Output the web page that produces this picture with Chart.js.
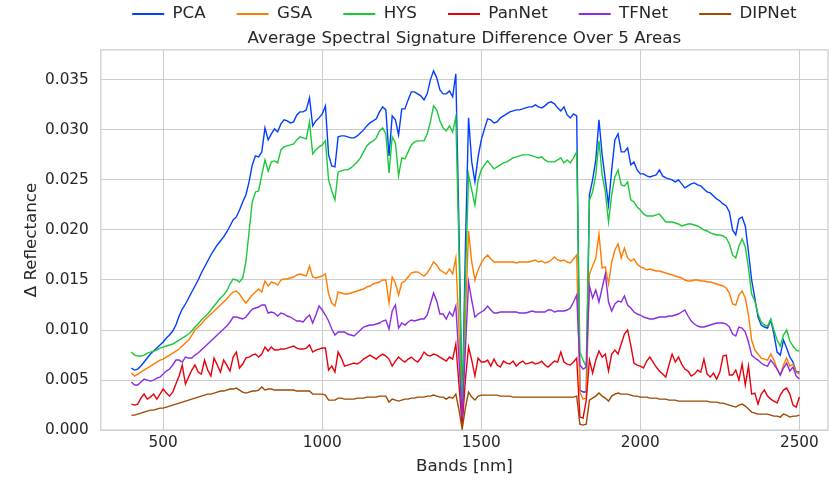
<!DOCTYPE html>
<html>
<head>
<meta charset="utf-8">
<script src="https://cdn.jsdelivr.net/npm/chart.js@4.4.1/dist/chart.umd.min.js"></script>
<style>
  html, body { margin: 0; padding: 0; background: #fff; }
  #wrap { width: 829px; height: 478px; position: relative; }
</style>
</head>
<body>
<div id="wrap"><canvas id="chart"></canvas></div>
<script>
// band centres (nm), 10 nm steps 400..2500
const bands = [];
for (let b = 400; b <= 2500; b += 10) bands.push(b);

// average delta reflectance per method, in units of 1e-3 (one row = 100 nm)
const pca = [
  6.2, 6.0, 6.1, 6.4, 6.8, 7.2, 7.6, 7.9, 8.2, 8.5,
  8.8, 9.2, 9.5, 9.9, 10.5, 11.4, 12.1, 12.6, 13.2, 13.8,
  14.4, 15.0, 15.7, 16.3, 16.9, 17.5, 18.0, 18.5, 18.9, 19.3,
  19.8, 20.4, 21.0, 21.3, 22.0, 22.8, 23.5, 24.8, 26.5, 27.4,
  27.3, 27.8, 30.2, 29.0, 29.6, 30.1, 29.8, 30.6, 31.0, 30.9,
  30.7, 30.8, 31.5, 31.8, 31.8, 32.0, 33.2, 30.4, 30.9, 31.2,
  31.6, 32.4, 27.5, 26.4, 26.3, 29.3, 29.4, 29.4, 29.3, 29.2,
  29.2, 29.4, 29.7, 30.0, 30.4, 30.7, 30.9, 31.1, 31.8, 32.3,
  32.0, 27.4, 31.4, 31.0, 29.5, 32.1, 32.1, 33.0, 33.8, 33.8,
  33.6, 33.4, 33.0, 33.6, 35.0, 35.9, 35.2, 34.0, 33.6, 33.6,
  33.9, 33.3, 35.6, 20.0, 1.8, 18.0, 31.2, 26.8, 24.8, 27.3,
  29.0, 30.1, 31.1, 31.0, 30.7, 30.8, 31.2, 31.4, 31.6, 31.8,
  31.9, 32.0, 32.0, 32.1, 32.2, 32.3, 32.3, 32.5, 32.3, 32.2,
  32.4, 32.7, 32.8, 32.6, 32.2, 31.9, 32.3, 31.5, 31.2, 31.6,
  31.4, 4.0, 3.8, 3.8, 23.5, 25.0, 27.0, 31.0, 27.5, 25.0,
  22.5, 26.0, 29.0, 29.6, 27.8, 27.8, 28.2, 26.5, 26.8, 26.0,
  25.6, 25.6, 25.4, 25.3, 25.4, 25.5, 26.0, 25.4, 25.2, 25.1,
  25.0, 24.8, 25.0, 24.6, 24.2, 24.4, 24.6, 24.7, 24.5, 24.4,
  24.1, 23.8, 23.7, 23.4, 23.1, 22.9, 22.6, 22.4, 21.8, 20.0,
  19.5, 21.1, 21.3, 20.4, 17.8, 15.0, 13.2, 11.3, 10.5, 10.3,
  10.2, 11.0, 9.6, 7.8, 7.5, 9.0, 8.2, 7.3, 6.8, 5.8,
  5.8
];
const gsa = [
  5.7, 5.4, 5.6, 5.8, 6.0, 6.2, 6.4, 6.6, 6.8, 7.0,
  7.1, 7.3, 7.5, 7.7, 7.9, 8.1, 8.4, 8.7, 9.0, 9.5,
  10.0, 10.3, 10.6, 11.0, 11.3, 11.6, 11.9, 12.2, 12.5, 12.8,
  13.1, 13.5, 13.8, 13.9, 13.6, 13.1, 12.7, 13.1, 13.5, 13.8,
  14.1, 13.8, 14.9, 14.4, 14.8, 14.7, 14.5, 15.0, 15.1, 15.1,
  15.2, 15.3, 15.5, 15.6, 15.5, 15.4, 16.4, 15.3, 15.2, 15.3,
  15.4, 15.6, 13.6, 12.7, 12.4, 13.8, 13.7, 13.6, 13.6, 13.7,
  13.8, 13.9, 14.0, 14.1, 14.3, 14.4, 14.6, 14.7, 14.8, 15.0,
  15.0, 12.7, 15.3, 14.7, 13.5, 14.7, 14.9, 15.3, 15.7, 15.8,
  15.8, 15.6, 15.4, 15.7, 16.2, 16.8, 16.5, 16.0, 15.8, 15.6,
  16.1, 15.6, 17.2, 10.0, 1.0, 11.0, 19.9, 16.8, 15.0, 16.0,
  16.7, 17.2, 17.5, 17.1, 16.8, 16.8, 16.8, 16.8, 16.8, 16.8,
  16.8, 16.7, 16.8, 16.8, 16.8, 16.8, 16.9, 17.0, 16.8, 16.9,
  16.7, 16.8, 17.0, 17.3, 17.0, 16.9, 17.0, 16.8, 16.7, 17.1,
  17.5, 3.8, 3.1, 3.2, 15.6, 16.4, 17.2, 19.6, 16.2, 16.3,
  14.6, 16.8, 18.0, 18.6, 17.2, 18.2, 17.2, 16.9, 17.1, 16.6,
  16.3, 16.2, 16.0, 16.1, 16.0, 15.9, 15.9, 15.8, 15.7, 15.6,
  15.5, 15.4, 15.3, 15.2, 15.0, 14.9, 14.9, 15.0, 15.0, 14.9,
  14.9, 14.8, 14.8, 14.7, 14.6, 14.5, 14.4, 14.2, 13.7, 12.6,
  12.5, 13.5, 13.9, 13.2, 11.5, 9.0, 8.0, 7.6, 7.2, 7.1,
  7.0, 7.6, 7.0, 6.1, 5.5, 6.5, 7.2, 6.4, 6.6, 5.8,
  5.6
];
const hys = [
  7.8, 7.5, 7.4, 7.4, 7.5, 7.7, 7.8, 7.9, 8.0, 8.2,
  8.3, 8.4, 8.5, 8.6, 8.8, 9.0, 9.2, 9.4, 9.6, 9.9,
  10.3, 10.6, 11.0, 11.3, 11.6, 12.0, 12.4, 12.8, 13.2, 13.5,
  13.9, 14.6, 15.1, 15.0, 14.8, 15.2, 16.8, 19.8, 22.8, 23.8,
  23.9, 25.5, 27.0, 25.9, 26.8, 26.9, 26.7, 28.0, 28.3, 28.4,
  28.5, 28.6, 29.0, 29.3, 29.2, 29.1, 30.8, 27.6, 28.0, 28.3,
  28.5, 28.9, 25.0, 23.9, 23.0, 25.8, 25.9, 26.0, 26.0, 26.2,
  26.5, 26.8, 27.2, 27.8, 28.4, 28.7, 28.9, 29.2, 29.9, 30.2,
  29.6, 25.7, 29.3, 28.7, 25.4, 27.2, 27.1, 27.8, 28.5, 28.8,
  28.9, 28.9, 28.9, 29.6, 30.8, 32.4, 32.0, 30.9, 30.2, 29.9,
  30.4, 29.8, 31.3, 18.0, 1.5, 15.0, 25.5, 24.0, 22.5, 25.0,
  26.0, 26.5, 26.9, 26.5, 26.1, 26.3, 26.5, 26.7, 26.8, 27.0,
  27.2, 27.3, 27.4, 27.5, 27.5, 27.5, 27.4, 27.3, 27.2, 27.3,
  27.0, 26.8, 26.8, 26.8, 27.0, 27.2, 26.7, 27.0, 26.7, 27.2,
  27.8, 7.8, 7.0, 6.3, 23.0, 23.8, 25.5, 28.9, 25.5, 23.8,
  20.8, 23.5, 25.3, 26.0, 24.5, 24.4, 24.8, 23.0, 22.8, 22.3,
  22.0, 21.6, 21.4, 21.4, 21.4, 21.5, 21.6, 21.2, 20.8, 20.8,
  20.8, 20.7, 20.6, 20.4, 20.5, 20.6, 20.6, 20.5, 20.4, 20.2,
  20.0, 19.9, 19.7, 19.6, 19.5, 19.5, 19.4, 19.2, 18.6, 17.5,
  17.2, 18.4, 19.1, 18.3, 16.2, 13.6, 12.9, 11.6, 10.8, 10.5,
  10.4, 11.1, 10.0, 9.0, 8.4, 9.5, 10.0, 8.9, 8.4, 8.0,
  7.9
];
const pannet = [
  2.6, 2.5, 2.6, 3.2, 3.6, 3.1, 3.3, 3.6, 3.1, 3.6,
  4.1, 3.7, 3.4, 3.8, 4.6, 5.4, 6.5, 4.6, 5.3, 6.0,
  6.5, 5.8, 5.6, 7.0, 6.0, 5.4, 7.2, 6.5, 5.8, 7.0,
  6.5, 5.9, 7.3, 7.8, 6.2, 6.6, 7.2, 7.3, 7.5, 7.6,
  7.3, 7.6, 8.3, 7.9, 8.3, 8.0, 8.0, 8.1, 8.1, 8.2,
  8.3, 8.4, 8.2, 8.1, 8.1, 8.2, 8.5, 7.8, 8.0, 8.1,
  8.2, 8.2, 6.0, 6.4, 5.8, 7.8, 7.2, 6.4, 6.5, 6.6,
  6.7, 6.6, 6.8, 7.1, 7.3, 7.5, 7.3, 7.1, 7.4, 7.6,
  7.4, 7.1, 6.4, 6.9, 7.3, 7.0, 6.8, 7.1, 7.3, 7.0,
  6.8, 7.2, 7.8, 7.5, 7.4, 7.6, 7.5, 7.3, 7.1, 6.9,
  7.3, 7.1, 8.6, 4.5, 0.4, 5.0, 8.3, 7.0, 5.4, 7.2,
  6.8, 6.8, 7.0, 6.4, 7.1, 6.5, 6.3, 6.9, 6.7, 6.6,
  6.9, 6.4, 6.7, 6.9, 6.6, 6.7, 6.8, 6.6, 6.7, 6.9,
  6.5, 6.3, 6.6, 6.9, 6.8, 7.8, 6.8, 6.6, 6.5, 6.8,
  7.2, 1.3, 1.2, 3.0, 7.0, 5.7, 7.0, 7.9, 7.3, 7.6,
  5.9, 7.6, 8.0, 7.6, 8.6, 9.6, 10.0, 8.5, 6.7, 6.5,
  6.4, 6.2, 6.9, 7.3, 6.8, 6.3, 5.9, 5.6, 5.3, 6.5,
  7.6, 6.8, 7.3, 6.6, 6.1, 5.9, 5.4, 5.6, 6.0, 5.8,
  7.1, 5.6, 5.3, 5.7, 5.1, 5.8, 7.4, 7.5, 5.5, 5.5,
  6.0, 5.0, 6.6, 4.5, 6.4, 3.6, 3.7, 2.6, 3.6, 4.0,
  3.4, 3.1, 2.9, 2.7, 3.5, 4.0, 4.2, 3.6, 2.5, 2.3,
  3.3
];
const tfnet = [
  4.8, 4.5, 4.5, 4.8, 5.1, 5.0, 4.9, 5.0, 5.2, 5.3,
  5.6, 5.9, 6.1, 6.5, 7.0, 7.0, 6.8, 7.3, 7.2, 7.2,
  7.5, 7.7, 8.0, 8.3, 8.6, 8.9, 9.2, 9.5, 9.8, 10.1,
  10.4, 10.8, 11.3, 11.3, 11.2, 11.1, 11.3, 11.7, 12.1, 12.2,
  12.3, 12.5, 12.5, 11.7, 11.8, 11.7, 11.4, 11.7, 11.6, 11.4,
  11.3, 11.1, 10.9, 10.9, 10.8, 11.2, 11.5, 10.7, 11.5, 12.4,
  12.0, 11.5, 10.9, 10.1, 9.5, 9.8, 9.8, 9.8, 9.6, 9.5,
  9.4, 9.7, 10.0, 10.3, 10.4, 10.5, 10.5, 10.6, 10.7, 10.9,
  11.0, 10.1, 11.9, 12.5, 10.2, 10.7, 10.5, 10.8, 11.0, 10.9,
  11.0, 11.1, 11.1, 11.5, 12.6, 13.7, 12.9, 11.6, 11.6, 11.1,
  11.8, 11.4, 12.4, 7.0, 1.2, 8.0, 14.8, 13.0, 11.3, 11.6,
  11.8, 12.0, 12.4, 12.0, 11.7, 11.7, 11.8, 11.8, 11.8, 11.8,
  11.8, 11.8, 11.7, 11.7, 11.7, 11.8, 11.9, 11.8, 11.8, 11.8,
  11.8, 12.0, 12.0, 11.8, 11.9, 11.9, 11.9, 12.0, 12.2, 12.8,
  13.5, 6.5, 6.1, 6.3, 14.4, 13.2, 14.0, 12.8, 14.2, 15.6,
  12.8, 11.9, 12.6, 12.9, 12.8, 13.4, 12.5, 12.2, 11.8, 11.6,
  11.5, 11.3, 11.2, 11.1, 11.1, 11.2, 11.3, 11.3, 11.3, 11.4,
  11.4, 11.5, 11.6, 11.8, 12.0, 11.4, 10.9, 10.6, 10.4, 10.3,
  10.3, 10.4, 10.5, 10.6, 10.7, 10.7, 10.7, 10.6, 10.3, 9.6,
  9.4, 10.3, 10.2, 9.8, 8.8, 7.5, 7.2, 7.0, 6.7, 6.5,
  6.4, 7.0, 6.6, 6.1, 5.5, 6.2, 6.7, 5.9, 6.3, 5.4,
  5.1
];
const dipnet = [
  1.5, 1.5, 1.6, 1.7, 1.8, 1.9, 2.0, 2.0, 2.1, 2.2,
  2.2, 2.3, 2.4, 2.5, 2.6, 2.7, 2.8, 2.9, 3.0, 3.1,
  3.2, 3.3, 3.4, 3.5, 3.6, 3.6, 3.7, 3.8, 3.9, 3.9,
  4.0, 4.1, 4.1, 4.2, 4.0, 3.8, 3.7, 3.8, 3.9, 3.9,
  4.0, 4.3, 4.0, 4.1, 4.1, 4.0, 4.0, 4.0, 4.0, 4.0,
  4.0, 4.0, 3.9, 3.9, 3.9, 3.9, 3.9, 3.6, 3.6, 3.6,
  3.6, 3.5, 3.0, 3.0, 3.0, 3.2, 3.2, 3.1, 3.1, 3.1,
  3.1, 3.2, 3.2, 3.2, 3.3, 3.3, 3.3, 3.3, 3.4, 3.4,
  3.4, 2.8, 3.1, 3.0, 2.9, 3.0, 3.1, 3.1, 3.2, 3.2,
  3.3, 3.3, 3.3, 3.4, 3.4, 3.5, 3.4, 3.3, 3.3, 3.1,
  3.3, 3.2, 3.6, 2.0, 0.1, 2.2, 3.8, 3.3, 3.0, 3.4,
  3.5, 3.5, 3.5, 3.5, 3.5, 3.5, 3.4, 3.4, 3.4, 3.4,
  3.3, 3.3, 3.3, 3.3, 3.3, 3.3, 3.3, 3.3, 3.3, 3.3,
  3.3, 3.3, 3.3, 3.3, 3.3, 3.3, 3.3, 3.3, 3.3, 3.3,
  3.4, 0.6, 0.5, 0.6, 3.0, 3.2, 3.4, 3.7, 3.4, 3.2,
  2.9, 3.4, 3.6, 3.7, 3.6, 3.6, 3.6, 3.5, 3.4, 3.4,
  3.3, 3.3, 3.3, 3.2, 3.2, 3.2, 3.1, 3.1, 3.1, 3.0,
  3.0, 3.0, 2.9, 2.9, 2.9, 2.9, 2.9, 2.9, 2.9, 2.9,
  2.9, 2.9, 2.8, 2.8, 2.8, 2.7, 2.7, 2.6, 2.5, 2.4,
  2.3, 2.5, 2.6, 2.4, 2.1, 1.8, 1.7, 1.6, 1.6, 1.6,
  1.6, 1.5, 1.4, 1.4, 1.3, 1.6, 1.5, 1.3, 1.4, 1.4,
  1.5
];

const methods = ['PCA', 'GSA', 'HYS', 'PanNet', 'TFNet', 'DIPNet'];
const colors = ['#023eff', '#ff7c00', '#1ac938', '#e8000b', '#8b2be2', '#9f4800'];
const xTicks = [500, 1000, 1500, 2000, 2500];
const yTicks = [0, 0.005, 0.01, 0.015, 0.02, 0.025, 0.03, 0.035];

const series = [pca, gsa, hys, pannet, tfnet, dipnet];
const ink = '#262626';
const gridGray = '#cccccc';
const font = 'DejaVu Sans';

// light box round the plot, like seaborn whitegrid spines
const frame = {
  id: 'frame',
  beforeDatasetsDraw(chart) {
    const { ctx, chartArea: a } = chart;
    ctx.save();
    ctx.strokeStyle = gridGray;
    ctx.lineWidth = 1.25;
    ctx.strokeRect(a.left, a.top, a.right - a.left, a.bottom - a.top);
    ctx.restore();
  }
};

new Chart(document.getElementById('chart'), {
  type: 'line',
  data: {
    datasets: series.map((vals, i) => ({
      label: methods[i],
      data: bands.map((b, j) => ({ x: b, y: vals[j] / 1000 })),
      borderColor: colors[i],
      backgroundColor: colors[i],
      borderWidth: 1.4,
      pointRadius: 0,
      tension: 0,
      order: series.length - i   // later methods drawn on top
    }))
  },
  options: {
    responsive: true,
    maintainAspectRatio: false,
    animation: false,
    layout: { padding: { top: -25.4, left: 18, right: 1, bottom: 0 } },
    plugins: {
      tooltip: { enabled: false },
      legend: {
        position: 'top',
        fullSize: false,
        weight: 3000,
        labels: {
          color: ink,
          font: { family: font, size: 16.7 },
          boxWidth: 32,
          boxHeight: 0,
          padding: 31,
          sort: (a, b) => a.datasetIndex - b.datasetIndex,
          generateLabels(chart) {
            const items = Chart.defaults.plugins.legend.labels.generateLabels(chart);
            items.forEach(it => { it.lineWidth = 2; });
            return items;
          }
        }
      },
      title: {
        display: true,
        fullSize: false,
        text: 'Average Spectral Signature Difference Over 5 Areas',
        color: ink,
        font: { family: font, size: 16.7, weight: 'normal' },
        padding: { top: -4, bottom: 1.5 }
      }
    },
    scales: {
      x: {
        type: 'linear',
        min: 304,
        max: 2590,
        afterBuildTicks: s => { s.ticks = xTicks.map(v => ({ value: v })); },
        grid: { color: gridGray, lineWidth: 1, drawTicks: false },
        border: { display: false },
        ticks: { color: ink, font: { family: font, size: 15.3 }, padding: 4, maxRotation: 0, callback: v => String(v) },
        title: { display: true, text: 'Bands [nm]', color: ink, font: { family: font, size: 16.7 }, padding: { top: 0, bottom: 1.5 } }
      },
      y: {
        min: 0,
        max: 0.038,
        afterBuildTicks: s => { s.ticks = yTicks.map(v => ({ value: v })); },
        grid: { color: gridGray, lineWidth: 1, drawTicks: false },
        border: { display: false },
        ticks: { color: ink, font: { family: font, size: 15.3 }, padding: 12, callback: v => v.toFixed(3) },
        title: { display: true, text: 'Δ Reflectance', color: ink, font: { family: font, size: 16.7 }, padding: { top: 4, bottom: -9 } }
      }
    }
  },
  plugins: [frame]
});
</script>
</body>
</html>
